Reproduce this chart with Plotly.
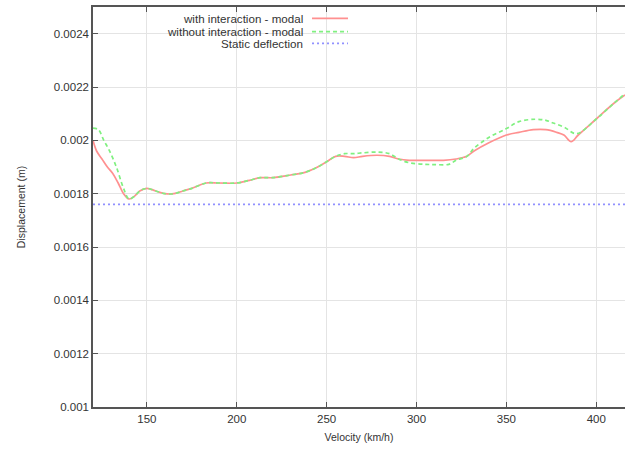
import plotly.graph_objects as go

# Velocity (km/h) and displacement (m)
v_with = [120, 122, 125, 128, 131, 134, 137, 140, 143, 146, 150, 155, 160, 165, 170, 175,
          183, 190, 200, 207, 213, 220, 230, 238, 245, 250, 255, 260, 265, 270, 278, 285,
          290, 296, 305, 315, 322, 328, 332, 340, 350, 357, 365, 372, 378, 382, 386, 390,
          400, 410, 416]
d_with = [0.00200, 0.00196, 0.00193, 0.00190, 0.001876, 0.00184, 0.00180, 0.00178, 0.00179,
          0.00181, 0.00182, 0.00181, 0.00180, 0.00180, 0.00181, 0.00182, 0.00184, 0.00184,
          0.00184, 0.00185, 0.00186, 0.00186, 0.00187, 0.00188, 0.00190, 0.00192, 0.00194,
          0.00194, 0.001935, 0.00194, 0.001944, 0.00194, 0.00193, 0.001925, 0.001925,
          0.001925, 0.00193, 0.00194, 0.00196, 0.00199, 0.00202, 0.00203, 0.00204, 0.00204,
          0.00203, 0.00202, 0.001995, 0.00202, 0.00208, 0.00214, 0.00217]

v_without = [120, 123, 126, 129, 133, 137, 140, 143, 146, 150, 155, 160, 165, 170, 175,
             183, 190, 200, 207, 213, 220, 230, 238, 245, 250, 255, 260, 265, 270, 278, 285,
             290, 296, 305, 310, 318, 322, 328, 332, 340, 350, 357, 366, 372, 376, 382, 389,
             400, 410, 416]
d_without = [0.002046, 0.00204, 0.00200, 0.001963, 0.00190, 0.00182, 0.00178, 0.00179,
             0.00181, 0.00182, 0.00181, 0.00180, 0.00180, 0.00181, 0.00182, 0.00184, 0.00184,
             0.00184, 0.00185, 0.00186, 0.00186, 0.00187, 0.00188, 0.00190, 0.00192, 0.00194,
             0.00195, 0.00195, 0.001953, 0.001956, 0.00195, 0.00193, 0.001916, 0.00191,
             0.001909, 0.00191, 0.001925, 0.00194, 0.00197, 0.00201, 0.002044, 0.00207,
             0.002079, 0.002075, 0.002065, 0.00205, 0.002025, 0.00208, 0.00214, 0.002175]

v_static = [120, 416]
d_static = [0.00176, 0.00176]

x_ticks = [150, 200, 250, 300, 350, 400]
y_ticks = [0.001, 0.0012, 0.0014, 0.0016, 0.0018, 0.002, 0.0022, 0.0024]
y_labels = ["0.001", "0.0012", "0.0014", "0.0016", "0.0018", "0.002", "0.0022", "0.0024"]

names = ["with interaction - modal", "without interaction - modal", "Static deflection"]
colors = ["#ff9090", "#80f080", "#9090ff"]
dashes = ["solid", "4px,3px", "2px,3px"]

fig = go.Figure()
series = [(v_with, d_with), (v_without, d_without), (v_static, d_static)]
for (xs, ys), n, c, d in zip(series, names, colors, dashes):
    fig.add_trace(go.Scatter(x=xs, y=ys, mode="lines", name=n, line_shape="spline",
                             line=dict(color=c, width=1.7, dash=d), showlegend=False))

FONT = "Liberation Sans, Arial, sans-serif"

# white legend box covering grid
shapes = [dict(type="rect", xref="paper", yref="paper", x0=0, x1=0.4925, y0=0.8925, y1=1,
               fillcolor="white", line_width=0, layer="between")]
annotations = []
leg_y = [0.97175, 0.93825, 0.90925]
for n, c, d, yy in zip(names, colors, dashes, leg_y):
    shapes.append(dict(type="line", xref="paper", yref="paper", x0=0.4117, x1=0.4793,
                       y0=yy, y1=yy, line=dict(color=c, width=1.7, dash=d)))
    annotations.append(dict(text=n, xref="paper", yref="paper", x=0.3985, y=yy,
                            xanchor="right", yanchor="middle", showarrow=False,
                            font=dict(family=FONT, size=11.6, color="#333")))

fig.update_layout(
    width=625, height=450,
    margin=dict(l=93, r=0, t=7, b=43),
    paper_bgcolor="white", plot_bgcolor="white",
    font=dict(family=FONT, size=11.5, color="#333"),
    shapes=shapes, annotations=annotations,
    xaxis=dict(range=[120, 416], tickvals=x_ticks, ticks="inside", ticklen=5,
               tickcolor="#555", showline=True, linecolor="#555", linewidth=1.5,
               mirror="ticks", showgrid=True, gridcolor="#e4e4e4", gridwidth=1,
               zeroline=False, tickfont=dict(size=11.5),
               title=dict(text="Velocity (km/h)", font=dict(size=10.5), standoff=10)),
    yaxis=dict(range=[0.001, 0.0025], tickvals=y_ticks, ticktext=y_labels, ticks="inside",
               ticklen=5, tickcolor="#555", showline=True, linecolor="#555", linewidth=1.5,
               showgrid=True, gridcolor="#e4e4e4", gridwidth=1, zeroline=False,
               tickfont=dict(size=11.5), automargin=False,
               title=dict(text="Displacement (m)", font=dict(size=10.5), standoff=26)),
)

fig.write_html("out.html", config={"displayModeBar": False},
               post_script="document.body.style.margin='0';document.body.style.overflow='hidden';")
